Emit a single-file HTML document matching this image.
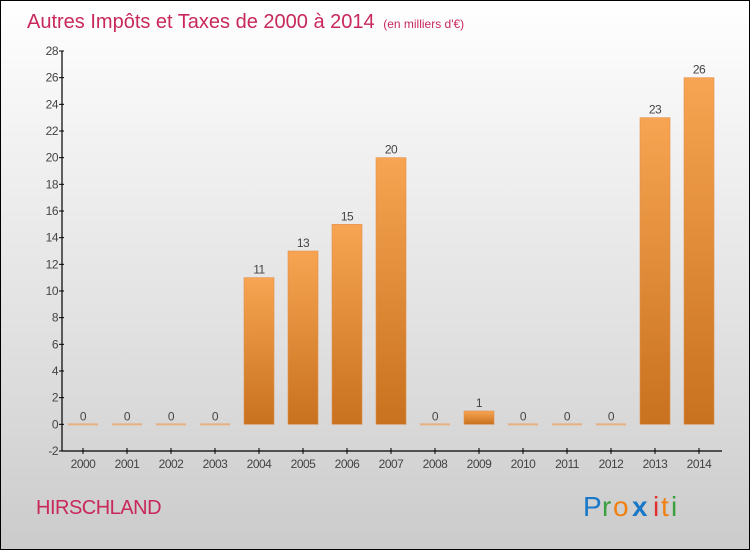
<!DOCTYPE html>
<html><head><meta charset="utf-8"><style>
body{margin:0;}
#wrap{position:relative;width:748px;height:548px;border:1px solid #000;background:linear-gradient(#ffffff,#f2f2f2 25%,#dcdcdc 70%,#cbcbcb);font-family:"Liberation Sans",sans-serif;overflow:hidden}
</style></head><body>
<div id="wrap">
<svg id="svg" width="748" height="548" style="position:absolute;left:0;top:0">
<defs>
<linearGradient id="bg" x1="0" y1="0" x2="0" y2="1"><stop offset="0" stop-color="#f7a552"/><stop offset="1" stop-color="#c8711e"/></linearGradient>
</defs>
<text x="26" y="27" font-size="20" fill="#c8285a">Autres Impôts et Taxes de 2000 à 2014 <tspan font-size="12" dx="3">(en milliers d'€)</tspan></text>
<text x="35" y="513" font-size="20" fill="#c8285a" letter-spacing="-0.5">HIRSCHLAND</text>
<g font-size="28" font-family="'Liberation Sans',sans-serif">
<text x="582" y="515" fill="#1a78c8">P</text><text x="601" y="515" fill="#3aa040">r</text><text x="612" y="515" fill="#f08010">o</text><text x="631" y="515" fill="#1a78c8" font-weight="bold">x</text><text x="652" y="515" fill="#e03030">i</text><text x="660" y="515" fill="#f08010">t</text><text x="670" y="515" fill="#3aa040">i</text>
</g>
<g id="plot"></g>
</svg>
</div>
<script>
const categories=["2000","2001","2002","2003","2004","2005","2006","2007","2008","2009","2010","2011","2012","2013","2014"];
const values=[0,0,0,0,11,13,15,20,0,1,0,0,0,23,26];
const yTicks=[-2,0,2,4,6,8,10,12,14,16,18,20,22,24,26,28];
const NS="http://www.w3.org/2000/svg";
const g=document.getElementById('plot');
const y=v=>50+(28-v)*400/30;
const x=i=>82+i*44;
function mk(t,a){const e=document.createElementNS(NS,t);for(const k in a)e.setAttribute(k,a[k]);g.appendChild(e);return e;}
let ax=mk('line',{x1:61,y1:50,x2:61,y2:450,stroke:'#000','stroke-width':1.2});


let bx=mk('line',{x1:61,y1:450,x2:721,y2:450,stroke:'#000','stroke-width':1.2});


yTicks.forEach(v=>{
 const l=mk('line',{x1:58,y1:y(v),x2:63,y2:y(v),stroke:'#000'});
 
 
 const t=mk('text',{x:57,y:y(v)+4,'font-size':12,fill:'#444','text-anchor':'end','letter-spacing':'-0.5'});
 t.textContent=v;
 
 
});
categories.forEach((c,i)=>{
 const l=mk('line',{x1:x(i),y1:447,x2:x(i),y2:453,stroke:'#000'});
 
 
 const t=mk('text',{x:x(i),y:467,'font-size':12,fill:'#444','text-anchor':'middle','letter-spacing':'-0.5'});
 t.textContent=c;
 
 
 const v=values[i];
 let b;
 if(v===0){b=mk('rect',{x:x(i)-15,y:y(0)-1,width:30,height:2,fill:'#e8b080'});}
 else{b=mk('rect',{x:x(i)-15,y:y(v),width:30,height:y(0)-y(v),fill:'url(#bg)',stroke:'#e09050','stroke-width':0.6});}
 
 
 const vt=mk('text',{x:x(i),y:y(v)-4,'font-size':12,fill:'#444','text-anchor':'middle','letter-spacing':'-0.5'});
 vt.textContent=v;
 
 
});
</script>
</body></html>
